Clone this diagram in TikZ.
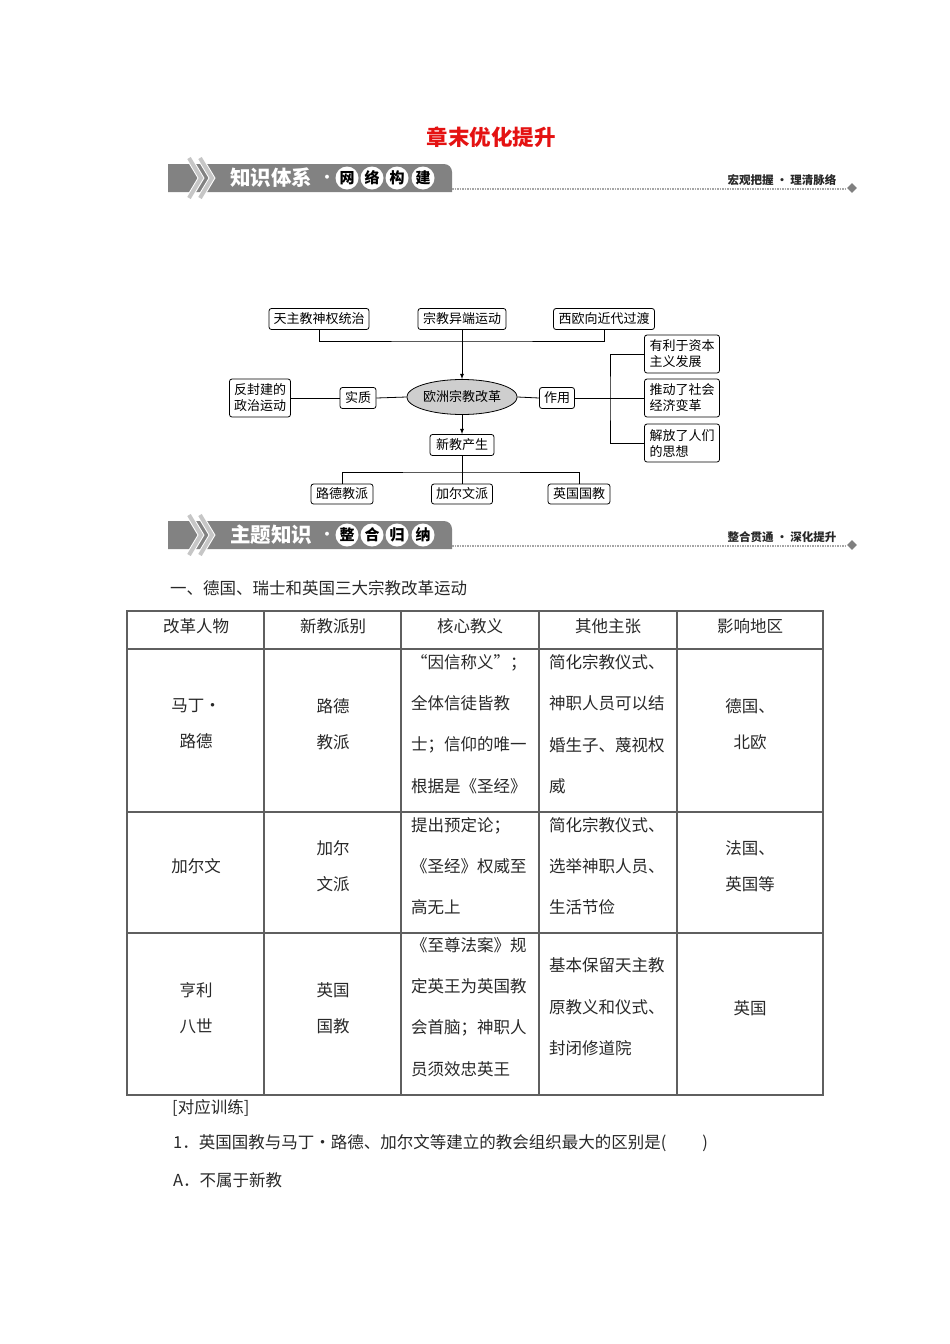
\documentclass[tikz,border=0pt]{standalone}
\usepackage{fontspec}
\setmainfont{Noto Sans CJK SC}
\usepackage{xcolor}
\usetikzlibrary{arrows}
\usetikzlibrary{shapes.geometric}
\definecolor{myred}{RGB}{228, 18, 18}
\definecolor{bargray}{RGB}{130, 130, 130}
\definecolor{ellgray}{RGB}{206, 206, 206}
\definecolor{tblgray}{RGB}{95, 95, 95}
\definecolor{txtgray}{RGB}{40, 40, 40}

\tikzset{
 box/.style={draw, rounded corners=2.5pt, line width=0.8pt, inner sep=0pt, minimum height=21, font=\fontsize{13}{16}\selectfont},
 twobox/.style={box, align=left, minimum height=38},
 chev/.style={draw=white, double=gray!45, double distance=4pt, line width=1pt, line join=miter},
 circ/.style={circle, fill=white, inner sep=0pt, minimum size=23, font=\fontsize{15}{17}\selectfont\bfseries},
 dotline/.style={gray!70, line width=1.6pt, dash pattern=on 1.5pt off 1pt},
 cell/.style={inner sep=0pt, text=txtgray, font=\fontsize{16.5}{41.3}\selectfont, align=left},
 ccell/.style={cell, align=center, font=\fontsize{16.5}{36}\selectfont},
 tbl/.style={tblgray, line width=1.1pt}
}

\begin{document}
\begin{tikzpicture}[x=1pt, y=-1pt]
\useasboundingbox (0,0) rectangle (950,1344);

 %title
 \node[font=\fontsize{21.5}{24}\selectfont\bfseries, text=myred] (ttl) at (491,137) {章末优化提升};

 %banner 1
 \fill[bargray] (168,164) -- (444,164) arc[start angle=-90, end angle=0, radius=8] -- (452,192) -- (168,192) -- cycle;
 \draw[chev] (189,158) -- (201,178) -- (189,198);
 \draw[chev] (200,158) -- (212,178) -- (200,198);
 \node[anchor=west, text=white, font=\fontsize{20.5}{22}\selectfont\bfseries, inner sep=0pt] (b1t) at (230,178) {知识体系};
 \node[text=white, font=\fontsize{14}{16}\selectfont\bfseries] (b1d) at (327,179) {·};
 \node[circ] (b1a) at (347,178) {网};
 \node[circ] (b1b) at (372,178) {络};
 \node[circ] (b1c) at (397,178) {构};
 \node[circ] (b1e) at (423,178) {建};
 \draw[dotline] (452,189) -- (845,189);
 \node[diamond, fill=gray, inner sep=0pt, minimum size=10] (b1m) at (852,188) {};
 \node[anchor=east, text=txtgray, font=\fontsize{11.5}{13}\selectfont\bfseries] (b1r) at (840,180) {宏观把握 · 理清脉络};

 %map
 \node[box, minimum width=100] (tzsq) at (319,319) {天主教神权统治};
 \node[box, minimum width=88] (zjyd) at (462,319) {宗教异端运动};
 \node[box, minimum width=101] (xyjd) at (604,319) {西欧向近代过渡};
 \node[ellipse, draw, fill=ellgray, line width=0.8pt, inner sep=0pt, minimum width=96, minimum height=35, font=\fontsize{13}{15}\selectfont] (oz) at (462,397) {欧洲宗教改革};
 \node[box, minimum width=36] (sz) at (358,398) {实质};
 \node[twobox, minimum width=61] (ffj) at (260,398) {反封建的\\政治运动};
 \node[box, minimum width=35] (zy) at (557,398) {作用};
 \node[twobox, minimum width=75] (zbfz) at (682,354) {有利于资本\\主义发展};
 \node[twobox, minimum width=75] (tjsh) at (682,398) {推动了社会\\经济变革};
 \node[twobox, minimum width=75] (jfsx) at (682,443) {解放了人们\\的思想};
 \node[box, minimum width=64] (xjcs) at (462,445) {新教产生};
 \node[box, minimum width=62, minimum height=20] (ldjp) at (342,494) {路德教派};
 \node[box, minimum width=61, minimum height=20] (jewp) at (462,494) {加尔文派};
 \node[box, minimum width=62, minimum height=20] (yggj) at (579,494) {英国国教};

 \coordinate (jt) at (462,341);
 \coordinate (rb) at (610,398);
 \coordinate (jb) at (462,472);

 \draw[line width=0.8pt] (tzsq.south) |- (jt) -| (xyjd.south);
 \draw[-latex, line width=0.8pt] (zjyd.south) -- (oz.north);
 \draw[line width=0.8pt] (ffj.east) -- (sz.west);
 \draw[line width=0.8pt] (sz.east) -- (oz.west);
 \draw[line width=0.8pt] (oz.east) -- (zy.west);
 \draw[line width=0.8pt] (zy.east) -- (tjsh.west);
 \draw[line width=0.8pt] (zbfz.west) -| (rb) |- (jfsx.west);
 \draw[-latex, line width=0.8pt] (oz.south) -- (xjcs.north);
 \draw[line width=0.8pt] (xjcs.south) -- (jewp.north);
 \draw[line width=0.8pt] (ldjp.north) |- (jb) -| (yggj.north);

 %banner 2
 \fill[bargray] (168,521) -- (444,521) arc[start angle=-90, end angle=0, radius=8] -- (452,549) -- (168,549) -- cycle;
 \draw[chev] (189,515) -- (201,535) -- (189,555);
 \draw[chev] (200,515) -- (212,535) -- (200,555);
 \node[anchor=west, text=white, font=\fontsize{20.5}{22}\selectfont\bfseries, inner sep=0pt] (b2t) at (230,535) {主题知识};
 \node[text=white, font=\fontsize{14}{16}\selectfont\bfseries] (b2d) at (327,536) {·};
 \node[circ] (b2a) at (347,535) {整};
 \node[circ] (b2b) at (372,535) {合};
 \node[circ] (b2c) at (397,535) {归};
 \node[circ] (b2e) at (423,535) {纳};
 \draw[dotline] (452,546) -- (845,546);
 \node[diamond, fill=gray, inner sep=0pt, minimum size=10] (b2m) at (852,545) {};
 \node[anchor=east, text=txtgray, font=\fontsize{11.5}{13}\selectfont\bfseries] (b2r) at (840,537) {整合贯通 · 深化提升};

 \node[cell, anchor=west] (sec) at (170,588) {一、德国、瑞士和英国三大宗教改革运动};

 %table
 \draw[tbl] (127,611) rectangle (823,1095);
 \draw[tbl] (127,649) -- (823,649);
 \draw[tbl] (127,812) -- (823,812);
 \draw[tbl] (127,933) -- (823,933);
 \draw[tbl] (264,611) -- (264,1095);
 \draw[tbl] (401,611) -- (401,1095);
 \draw[tbl] (539,611) -- (539,1095);
 \draw[tbl] (677,611) -- (677,1095);

 \node[ccell] (h1) at (196,626) {改革人物};
 \node[ccell] (h2) at (333,626) {新教派别};
 \node[ccell] (h3) at (470,626) {核心教义};
 \node[ccell] (h4) at (608,626) {其他主张};
 \node[ccell] (h5) at (750,626) {影响地区};

 \node[ccell] (r1a) at (196,724) {马丁•\\路德};
 \node[ccell] (r1b) at (333,724) {路德\\教派};
 \node[cell, anchor=west] (r1c) at (411,724) {“因信称义”；\\全体信徒皆教\\士；信仰的唯一\\根据是《圣经》};
 \node[cell, anchor=west] (r1d) at (549,724) {简化宗教仪式、\\神职人员可以结\\婚生子、蔑视权\\威};
 \node[ccell] (r1e) at (750,724) {德国、\\北欧};

 \node[ccell] (r2a) at (196,866) {加尔文};
 \node[ccell] (r2b) at (333,866) {加尔\\文派};
 \node[cell, anchor=west] (r2c) at (411,866) {提出预定论；\\《圣经》权威至\\高无上};
 \node[cell, anchor=west] (r2d) at (549,866) {简化宗教仪式、\\选举神职人员、\\生活节俭};
 \node[ccell] (r2e) at (750,866) {法国、\\英国等};

 \node[ccell] (r3a) at (196,1008) {亨利\\八世};
 \node[ccell] (r3b) at (333,1008) {英国\\国教};
 \node[cell, anchor=west] (r3c) at (411,1007) {《至尊法案》规\\定英王为英国教\\会首脑；神职人\\员须效忠英王};
 \node[cell, anchor=west] (r3d) at (549,1007) {基本保留天主教\\原教义和仪式、\\封闭修道院};
 \node[ccell] (r3e) at (750,1008) {英国};

 %exercise
 \node[cell, anchor=west] (dy) at (172,1108) {[对应训练]};
 \node[cell, anchor=west] (q1) at (173,1143) {1．英国国教与马丁•路德、加尔文等建立的教会组织最大的区别是(\hspace{36pt})};
 \node[cell, anchor=west] (qa) at (173,1180) {A．不属于新教};
\end{tikzpicture}
\end{document}
